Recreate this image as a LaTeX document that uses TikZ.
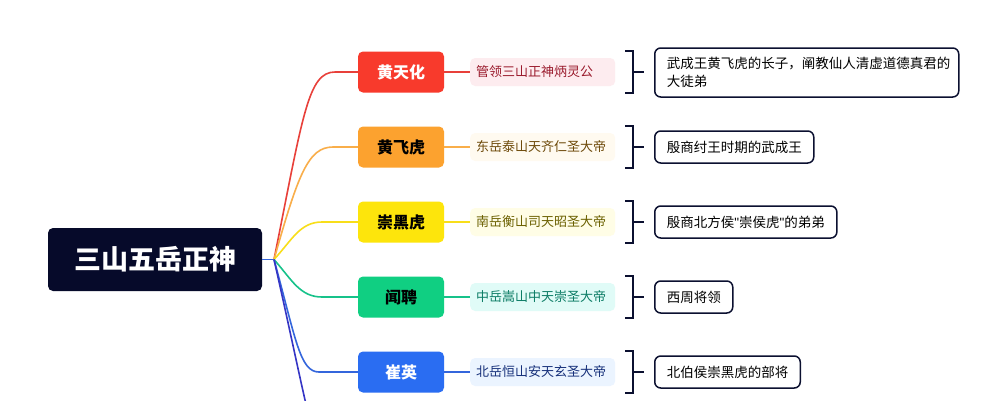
\documentclass[tikz,border=0pt]{standalone}
\usepackage{fontspec}
\setmainfont{Noto Sans CJK SC}
\newfontfamily\latinq{Liberation Sans}
\definecolor{rootc}{HTML}{060A2A}
\definecolor{cred}{HTML}{F83A2C}
\definecolor{corange}{HTML}{FCA22F}
\definecolor{cyellow}{HTML}{FDE50C}
\definecolor{cgreen}{HTML}{10CF82}
\definecolor{cblue}{HTML}{2A6DF2}
\definecolor{cindigo}{HTML}{3535C5}
\definecolor{lred}{HTML}{E8403A}
\definecolor{lorange}{HTML}{F9AE4A}
\definecolor{lyellow}{HTML}{F8DE1A}
\definecolor{lgreen}{HTML}{17C28A}
\definecolor{lblue}{HTML}{3466DC}
\definecolor{tred}{HTML}{9A1A2C}
\definecolor{bred}{HTML}{FDECEF}
\definecolor{torange}{HTML}{6E4A0A}
\definecolor{borange}{HTML}{FFFAF0}
\definecolor{tyellow}{HTML}{6B6000}
\definecolor{byellow}{HTML}{FFFDE6}
\definecolor{tgreen}{HTML}{0D7D66}
\definecolor{bgreen}{HTML}{E0FBF7}
\definecolor{tblue}{HTML}{16307A}
\definecolor{bblue}{HTML}{EBF4FF}
\definecolor{brk}{HTML}{0B1030}
\tikzset{
  rootbox/.style={fill=rootc, text=white, rounded corners=5pt, minimum width=214pt, minimum height=63pt, inner sep=0pt, font=\fontsize{27}{31}\selectfont\bfseries},
  lonebox/.style={rounded corners=5pt, minimum width=86pt, minimum height=41pt, inner sep=0pt, font=\fontsize{16}{19}\selectfont\bfseries},
  labelbox/.style={rounded corners=5pt, anchor=west, text width=133pt, align=left, inner xsep=6pt, minimum height=28pt, inner ysep=0pt, font=\fontsize{13}{16}\selectfont},
  descbox/.style={draw=brk, line width=1.5pt, fill=white, rounded corners=6pt, anchor=west, align=left, inner xsep=12pt, minimum height=32pt, inner ysep=0pt, font=\fontsize{13.5}{18}\selectfont},
  branch/.style={line width=1.6pt},
  brkline/.style={draw=brk, line width=2pt},
}
\begin{document}
\begin{tikzpicture}[x=1pt,y=-1pt]
\useasboundingbox (0,0) rectangle (1006,400);
\clip (0,0) rectangle (1006,400);
\fill[white] (0,0) rectangle (1006,400);

\node[rootbox] (root) at (155,259.5) {三山五岳正神};
\coordinate (J) at (274,259.5);

\node[lonebox, fill=cred, text=white] (n1) at (401,72) {黄天化};
\node[lonebox, fill=corange, text=black] (n2) at (401,147) {黄飞虎};
\node[lonebox, fill=cyellow, text=black] (n3) at (401,222) {崇黑虎};
\node[lonebox, fill=cgreen, text=black] (n4) at (401,297) {闻聘};
\node[lonebox, fill=cblue, text=white] (n5) at (401,372) {崔英};
\coordinate (n6) at (312,430);

\coordinate (h1) at (335,72);
\coordinate (h2) at (333,147);
\coordinate (h3) at (322,222);
\coordinate (h4) at (322,297);
\coordinate (h5) at (319,372);

\draw[branch, draw=lblue] (root.east) -- (J);
\draw[branch, draw=lred] (J) .. controls (303,115) and (308,72) .. (h1) -- (n1.west);
\draw[branch, draw=lorange] (J) .. controls (298,175) and (308,147) .. (h2) -- (n2.west);
\draw[branch, draw=lyellow] (J) .. controls (292,240) and (300,222) .. (h3) -- (n3.west);
\draw[branch, draw=lgreen] (J) .. controls (292,280) and (300,297) .. (h4) -- (n4.west);
\draw[branch, draw=lblue] (J) .. controls (296,340) and (300,372) .. (h5) -- (n5.west);
\draw[branch, draw=cindigo] (J) .. controls (290,330) and (300,380) .. (n6);

\node[labelbox, fill=bred, text=tred] (l1) at (470,72) {管领三山正神炳灵公};
\node[labelbox, fill=borange, text=torange] (l2) at (470,147) {东岳泰山天齐仁圣大帝};
\node[labelbox, fill=byellow, text=tyellow] (l3) at (470,222) {南岳衡山司天昭圣大帝};
\node[labelbox, fill=bgreen, text=tgreen] (l4) at (470,297) {中岳嵩山中天崇圣大帝};
\node[labelbox, fill=bblue, text=tblue] (l5) at (470,372) {北岳恒山安天玄圣大帝};

\draw[line width=1.4pt, draw=lred] (n1.east) -- (l1.west);
\draw[line width=1.4pt, draw=lorange] (n2.east) -- (l2.west);
\draw[line width=1.4pt, draw=lyellow] (n3.east) -- (l3.west);
\draw[line width=1.4pt, draw=lgreen] (n4.east) -- (l4.west);
\draw[line width=1.4pt, draw=lblue] (n5.east) -- (l5.west);

\foreach \yy in {72,147,222,297,372}{
  \draw[brkline] (625,\yy-21) -- (633,\yy-21) -- (633,\yy+21) -- (625,\yy+21);
  \draw[brkline] (633,\yy) -- (644,\yy);
}

\node[descbox, text width=280pt, minimum height=49pt] (d1) at (654,72.5) {武成王黄飞虎的长子，阐教仙人清虚道德真君的\\大徒弟};
\node[descbox] (d2) at (654,147) {殷商纣王时期的武成王};
\node[descbox] (d3) at (654,222) {殷商北方侯{\latinq "}崇侯虎{\latinq "}的弟弟};
\node[descbox] (d4) at (654,297) {西周将领};
\node[descbox] (d5) at (654,372) {北伯侯崇黑虎的部将};
\end{tikzpicture}
\end{document}
